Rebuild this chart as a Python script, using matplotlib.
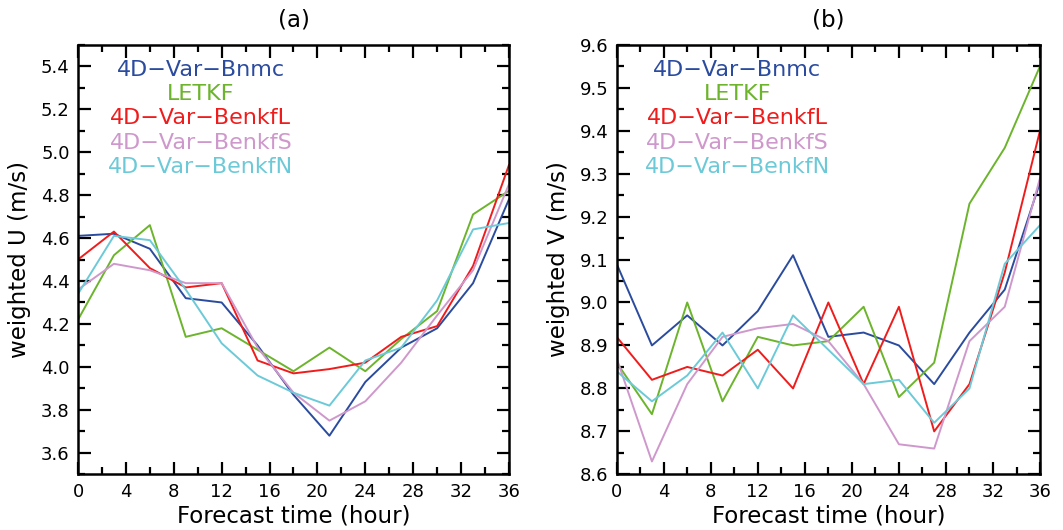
import matplotlib
matplotlib.use("Agg")
import matplotlib.pyplot as plt
from matplotlib.ticker import MultipleLocator

hours = [0, 3, 6, 9, 12, 15, 18, 21, 24, 27, 30, 33, 36]
names = ["4D\u2212Var\u2212Bnmc", "LETKF", "4D\u2212Var\u2212BenkfL",
         "4D\u2212Var\u2212BenkfS", "4D\u2212Var\u2212BenkfN"]
colors = ["#2a4b9e", "#6cb42c", "#f01c1c", "#cf98cc", "#6ccad8"]

# weighted U (m/s)
u_bnmc = [4.61, 4.62, 4.55, 4.32, 4.30, 4.10, 3.87, 3.68, 3.93, 4.09, 4.18, 4.39, 4.78]
u_letkf = [4.22, 4.52, 4.66, 4.14, 4.18, 4.08, 3.98, 4.09, 3.98, 4.13, 4.26, 4.71, 4.82]
u_benkfl = [4.50, 4.63, 4.46, 4.37, 4.39, 4.03, 3.97, 3.99, 4.02, 4.14, 4.19, 4.47, 4.94]
u_benkfs = [4.36, 4.48, 4.45, 4.39, 4.39, 4.09, 3.88, 3.75, 3.84, 4.02, 4.24, 4.45, 4.85]
u_benkfn = [4.34, 4.61, 4.59, 4.36, 4.11, 3.96, 3.88, 3.82, 4.03, 4.09, 4.31, 4.64, 4.67]

# weighted V (m/s)
v_bnmc = [9.09, 8.90, 8.97, 8.90, 8.98, 9.11, 8.92, 8.93, 8.90, 8.81, 8.93, 9.03, 9.28]
v_letkf = [8.86, 8.74, 9.00, 8.77, 8.92, 8.90, 8.91, 8.99, 8.78, 8.86, 9.23, 9.36, 9.55]
v_benkfl = [8.92, 8.82, 8.85, 8.83, 8.89, 8.80, 9.00, 8.81, 8.99, 8.70, 8.81, 9.07, 9.40]
v_benkfs = [8.87, 8.63, 8.81, 8.92, 8.94, 8.95, 8.91, 8.81, 8.67, 8.66, 8.91, 8.99, 9.29]
v_benkfn = [8.84, 8.77, 8.83, 8.93, 8.80, 8.97, 8.89, 8.81, 8.82, 8.72, 8.80, 9.09, 9.18]

u_series = [u_bnmc, u_letkf, u_benkfl, u_benkfs, u_benkfn]
v_series = [v_bnmc, v_letkf, v_benkfl, v_benkfs, v_benkfn]

plt.rcParams["font.family"] = ["DejaVu Sans"]

fig = plt.figure(figsize=(10.63, 5.30), dpi=100)
ax_a = fig.add_axes([0.0734, 0.105, 0.4054, 0.8107])
ax_b = fig.add_axes([0.5801, 0.105, 0.3983, 0.8107])


def style_axis(ax, ylim, ymajor, yminor, ylabel, title, yfmt):
    ax.set_xlim(0, 36)
    ax.set_ylim(*ylim)
    ax.xaxis.set_major_locator(MultipleLocator(4))
    ax.xaxis.set_minor_locator(MultipleLocator(2))
    ax.yaxis.set_major_locator(MultipleLocator(ymajor))
    ax.yaxis.set_minor_locator(MultipleLocator(yminor))
    ax.yaxis.set_major_formatter(yfmt)
    ax.tick_params(which="both", direction="in", top=True, right=True,
                   width=1.6, labelsize=13, colors="black")
    ax.tick_params(which="major", length=9, pad=6)
    ax.tick_params(which="minor", length=5)
    for sp in ax.spines.values():
        sp.set_linewidth(1.8)
    ax.set_xlabel("Forecast time (hour)", fontsize=16.5, labelpad=3)
    ax.set_ylabel(ylabel, fontsize=16.5, labelpad=7)
    ax.set_title(title, fontsize=16.5, pad=13)


for s, c in zip(u_series, colors):
    ax_a.plot(hours, s, color=c, lw=1.4)
for s, c in zip(v_series, colors):
    ax_b.plot(hours, s, color=c, lw=1.4)

style_axis(ax_a, (3.5, 5.5), 0.2, 0.1, "weighted U (m/s)", "(a)", "{x:.1f}")
style_axis(ax_b, (8.6, 9.6), 0.1, 0.05, "weighted V (m/s)", "(b)", "{x:.1f}")

for ax in (ax_a, ax_b):
    for i, (n, c) in enumerate(zip(names, colors)):
        ax.text(0.285, 0.942 - i * 0.0567, n, color=c, fontsize=16,
                ha="center", va="center", transform=ax.transAxes)

fig.savefig("out.png", dpi=100)
